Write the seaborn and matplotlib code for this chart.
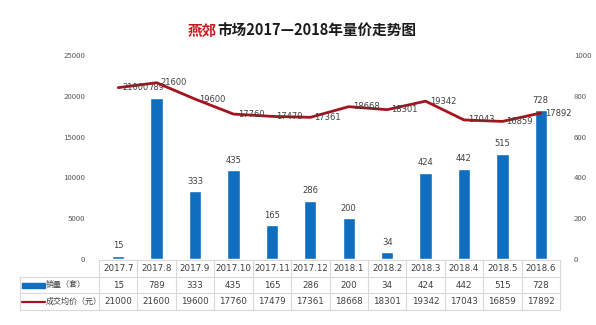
import matplotlib
matplotlib.use("Agg")
import matplotlib.pyplot as plt
import matplotlib.transforms as mtransforms
from matplotlib.lines import Line2D
from matplotlib.patches import Rectangle
import seaborn as sns
import numpy as np
import pandas as pd

sns.set_theme(style="white")
plt.rcParams['font.family'] = ['Noto Sans CJK SC', 'DejaVu Sans']

months = ["2017.7", "2017.8", "2017.9", "2017.10", "2017.11", "2017.12",
          "2018.1", "2018.2", "2018.3", "2018.4", "2018.5", "2018.6"]
volume = [15, 789, 333, 435, 165, 286, 200, 34, 424, 442, 515, 728]
price = [21000, 21600, 19600, 17760, 17479, 17361, 18668, 18301, 19342, 17043, 16859, 17892]
vol_label = "销量（套）"
price_label = "成交均价（元）"
left_ticks = [0, 5000, 10000, 15000, 20000, 25000]
right_ticks = [0, 200, 400, 600, 800, 1000]

bar_color = "#0f6ebf"
line_color = "#a3141e"
grid_color = "#d9d9d9"
txt_color = "#404040"

df = pd.DataFrame({"month": months, "volume": volume, "price": price})

W, H = 596, 325
fig = plt.figure(figsize=(W / 100, H / 100), dpi=100)
ax = fig.add_axes([99 / W, (H - 259) / H, 461 / W, 204 / H])

sns.barplot(data=df, x="month", y="volume", color=bar_color, width=0.32,
            saturation=1, ax=ax)
ax.set_ylim(0, 1000)
ax.set_xlim(-0.5, len(months) - 0.5)
ax2 = ax.twinx()
sns.lineplot(data=df, x="month", y="price", color=line_color, linewidth=2,
             sort=False, ax=ax2)
ax2.set_ylim(0, 25000)
ax.yaxis.tick_right()
ax.set_yticks(right_ticks)
ax.set_yticklabels([str(t) for t in right_ticks])
ax2.yaxis.tick_left()
ax2.set_yticks(left_ticks)
ax2.set_yticklabels([str(t) for t in left_ticks])

for a in (ax, ax2):
    for s in a.spines.values():
        s.set_visible(False)
    a.set_xlabel("")
    a.set_ylabel("")
    a.grid(False)
    a.tick_params(axis="y", length=0, labelsize=5.6, labelcolor="#595959", pad=10)
    a.tick_params(axis="x", length=0, labelbottom=False)
ax.yaxis.set_tick_params(labelleft=False, labelright=True)
ax2.yaxis.set_tick_params(labelleft=True, labelright=False)
ax.set_xticks(range(len(months)))
ax.set_xticklabels([])

# bar labels
for i, v in enumerate(volume):
    ax.annotate(str(v), (i, v), xytext=(0, 4), textcoords="offset points",
                ha="center", va="bottom", fontsize=6, color=txt_color,
                family=["DejaVu Sans"])
# line labels
for i, p in enumerate(price):
    ax2.annotate(str(p), (i, p), xytext=(3, 0), textcoords="offset points",
                 ha="left", va="center", fontsize=6, color=txt_color,
                 family=["DejaVu Sans"])

# data table under the axis
tr = mtransforms.blended_transform_factory(ax.transData, ax.transAxes)
px = 1 / 204.0
y_rows = [(259 - 260) * px, (259 - 277) * px, (259 - 293) * px, (259 - 310) * px]
x_left = -0.5 - 79 / (461 / 12)
n = len(months)
kw = dict(transform=tr, color=grid_color, lw=0.8, clip_on=False)
ax.add_line(Line2D([-0.5, n - 0.5], [y_rows[0]] * 2, **kw))
for y in y_rows[1:]:
    ax.add_line(Line2D([x_left, n - 0.5], [y, y], **kw))
for k in range(n + 1):
    ax.add_line(Line2D([k - 0.5, k - 0.5], [y_rows[0], y_rows[3]], **kw))
ax.add_line(Line2D([x_left, x_left], [y_rows[1], y_rows[3]], **kw))

def mid(a, b):
    return (a + b) / 2

for i, m in enumerate(months):
    ax.text(i, mid(y_rows[0], y_rows[1]), m, transform=tr, ha="center", va="center",
            fontsize=6.3, color=txt_color, family=["DejaVu Sans"])
    ax.text(i, mid(y_rows[1], y_rows[2]), str(volume[i]), transform=tr, ha="center",
            va="center", fontsize=6.3, color=txt_color, family=["DejaVu Sans"])
    ax.text(i, mid(y_rows[2], y_rows[3]), str(price[i]), transform=tr, ha="center",
            va="center", fontsize=6.3, color=txt_color, family=["DejaVu Sans"])

cw = 461 / 12
x0 = x_left + 2 / cw
x1 = x_left + 25 / cw
yc1 = mid(y_rows[1], y_rows[2])
yc2 = mid(y_rows[2], y_rows[3])
ax.add_patch(Rectangle((x0, yc1 - 2.5 * px), x1 - x0, 5 * px, transform=tr,
                       color=bar_color, clip_on=False))
ax.text(x1 + 0.5 / cw, yc1, vol_label, transform=tr, ha="left", va="center",
        fontsize=5.8, color=txt_color)
ax.add_line(Line2D([x0, x1], [yc2, yc2], transform=tr, color=line_color, lw=1.6,
                   clip_on=False))
ax.text(x1 + 1 / cw, yc2, price_label, transform=tr, ha="left", va="center",
        fontsize=5.8, color=txt_color)

fig.canvas.draw()
r = fig.canvas.get_renderer()
t1 = fig.text(0, 0, "燕郊", fontsize=10.5, fontweight="bold", color="#c8161d")
t2 = fig.text(0, 0, "市场2017—2018年量价走势图", fontsize=10.5, fontweight="bold",
              color="#1a1a1a")
w1 = t1.get_window_extent(r).width
w2 = t2.get_window_extent(r).width
start = (W / 2 - (w1 + w2) / 2 + 4) / W
ty = (H - 36) / H
t1.set_position((start, ty))
t2.set_position((start + w1 / W, ty))

fig.savefig("out.png", dpi=100)
